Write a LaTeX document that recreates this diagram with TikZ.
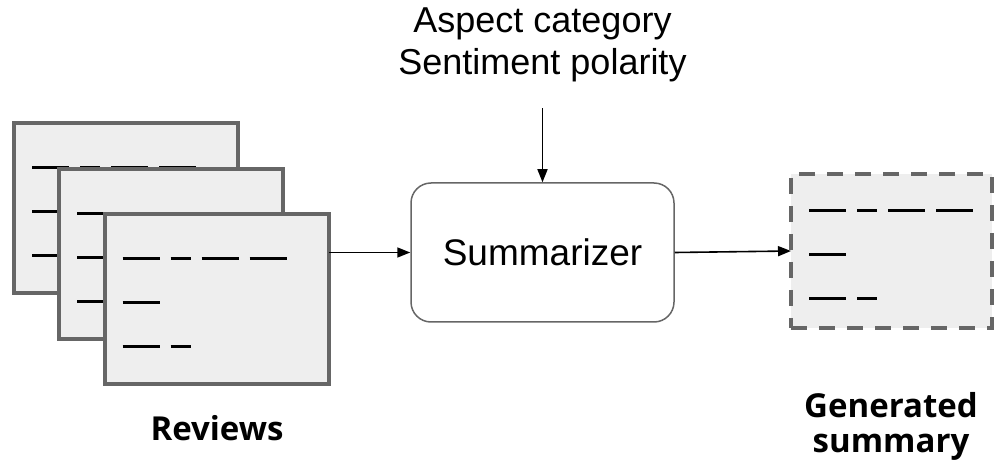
\documentclass[tikz,border=0pt]{standalone}
\usepackage{fontspec}
\setmainfont{Liberation Sans}
\newfontfamily\captionfont{Open Sans}
\usetikzlibrary{arrows.meta}

\definecolor{edgegray}{HTML}{666666}
\definecolor{paperfill}{HTML}{EEEEEE}

\begin{document}
\begin{tikzpicture}[x=1pt,y=-1pt,
    doc/.style={draw=edgegray, line width=4pt, fill=paperfill, inner sep=0pt, outer sep=0pt,
      minimum width=224pt, minimum height=170pt},
    gendoc/.style={draw=edgegray, line width=4pt, fill=paperfill, inner sep=0pt, outer sep=0pt,
      dash pattern=on 16pt off 12pt, minimum width=201pt, minimum height=154pt},
    textline/.style={line width=3pt},
    flow/.style={line width=1.6pt, -{Triangle[length=13pt,width=10pt]}},
    caption/.style={font=\captionfont\bfseries\fontsize{33}{35}\selectfont, align=center},
  ]
  \useasboundingbox (0,0) rectangle (994,470);

  % stacked reviews
  \foreach \i/\cx/\cy in {1/126/208, 2/171/254, 3/216.5/299}{
    \node[doc] (rev\i) at (\cx,\cy) {};
    \begin{scope}[shift={(rev\i.north west)}]
      \foreach \r/\a/\b in {0/0/37, 0/48/68, 0/79/116, 0/127/164, 1/0/37, 2/0/37, 2/48/68}
        \draw[textline] (18+\a,45+44*\r) -- (18+\b,45+44*\r);
    \end{scope}
  }
  \node[caption, anchor=base] (revlabel) at (217,440) {Reviews};

  % model
  \node[draw=edgegray, line width=1.5pt, rounded corners=20pt, minimum width=263pt, minimum height=139pt,
    font=\fontsize{37}{42}\selectfont] (summ) at (542.5,252.5) {Summarizer};
  \node[font=\fontsize{36}{42}\selectfont, align=center, anchor=base] (aspects) at (542.5,75)
    {Aspect category\\Sentiment polarity};

  % output
  \node[gendoc] (gen) at (891.5,251) {};
  \begin{scope}[shift={(gen.north west)}]
    \foreach \r/\a/\b in {0/0/37, 0/48/68, 0/79/116, 0/127/164, 1/0/37, 2/0/37, 2/48/68}
      \draw[textline] (18+\a,37+44*\r) -- (18+\b,37+44*\r);
  \end{scope}
  \node[caption, anchor=base] (genlabel) at (891,452) {Generated\\summary};

  \draw[flow] ([yshift=-22pt]aspects.south) -- (summ.north);
  \draw[flow] (rev3.east |- summ.west) -- (summ.west);
  \draw[flow] (summ.east) -- (gen.west);
\end{tikzpicture}
\end{document}
